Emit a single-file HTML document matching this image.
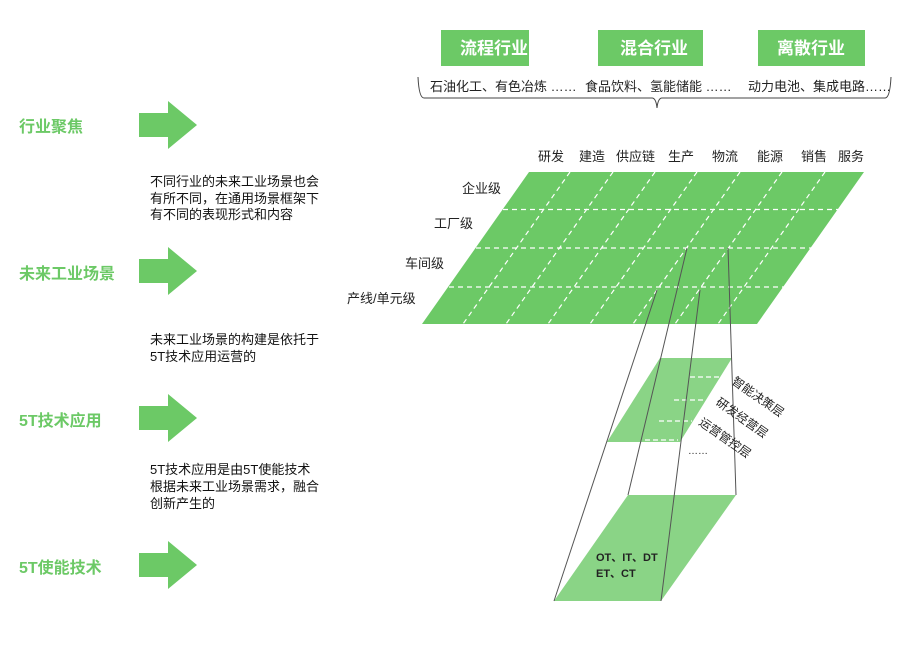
<!DOCTYPE html>
<html><head><meta charset="utf-8"><style>
body{margin:0;background:#fff;}
svg{display:block;font-family:"Liberation Sans","Noto Sans CJK SC",sans-serif;}
</style></head><body>
<svg width="905" height="672" viewBox="0 0 905 672" xmlns="http://www.w3.org/2000/svg">
<rect x="441" y="30" width="88" height="36" fill="#6cc966"/>
<rect x="598" y="30" width="105" height="36" fill="#6cc966"/>
<rect x="758" y="30" width="107" height="36" fill="#6cc966"/>
<g fill="#fff" font-weight="bold" font-size="17" text-anchor="middle">
<text x="494" y="54">流程行业</text>
<text x="654" y="54">混合行业</text>
<text x="811" y="54">离散行业</text>
</g>
<g font-size="13" fill="#222">
<text x="430" y="91">石油化工、有色冶炼 ……</text>
<text x="585" y="91">食品饮料、氢能储能 ……</text>
<text x="748" y="91">动力电池、集成电路……</text>
</g>
<path d="M418,77 Q419,98 424,98 L652,98 Q656,98 657,108 Q658,98 662,98 L885,98 Q890,98 891,77" fill="none" stroke="#444" stroke-width="1"/>
<g fill="#6cc966" font-weight="bold" font-size="16">
<text x="19" y="132">行业聚焦</text>
<text x="19" y="279">未来工业场景</text>
<text x="19" y="426">5T技术应用</text>
<text x="19" y="573">5T使能技术</text>
</g>
<g fill="#6cc966">
<polygon points="139,113 168,113 168,101 197,125 168,149 168,137 139,137"/>
<polygon points="139,259 168,259 168,247 197,271 168,295 168,283 139,283"/>
<polygon points="139,406 168,406 168,394 197,418 168,442 168,430 139,430"/>
<polygon points="139,553 168,553 168,541 197,565 168,589 168,577 139,577"/>
</g>
<g font-size="13" fill="#111">
<text x="150" y="186">不同行业的未来工业场景也会</text>
<text x="150" y="203">有所不同，在通用场景框架下</text>
<text x="150" y="219">有不同的表现形式和内容</text>
<text x="150" y="344">未来工业场景的构建是依托于</text>
<text x="150" y="361">5T技术应用运营的</text>
<text x="150" y="474">5T技术应用是由5T使能技术</text>
<text x="150" y="491">根据未来工业场景需求，融合</text>
<text x="150" y="508">创新产生的</text>
</g>
<polygon points="529,172 864,172 757,324 422,324" fill="#6cc966"/>
<g stroke="#fff" stroke-width="1.2" stroke-dasharray="5,4" fill="none">
<line x1="503" y1="209.5" x2="838" y2="209.5"/>
<line x1="476" y1="248" x2="811" y2="248"/>
<line x1="449" y1="287" x2="784" y2="287"/>
<line x1="570" y1="172" x2="463" y2="324"/>
<line x1="613" y1="172" x2="506" y2="324"/>
<line x1="655" y1="172" x2="548" y2="324"/>
<line x1="697" y1="172" x2="590" y2="324"/>
<line x1="740" y1="172" x2="633" y2="324"/>
<line x1="782" y1="172" x2="675" y2="324"/>
<line x1="825" y1="172" x2="718" y2="324"/>
</g>
<g font-size="13" fill="#222">
<text x="538" y="161">研发</text>
<text x="579" y="161">建造</text>
<text x="616" y="161">供应链</text>
<text x="668" y="161">生产</text>
<text x="712" y="161">物流</text>
<text x="757" y="161">能源</text>
<text x="801" y="161">销售</text>
<text x="838" y="161">服务</text>
<text x="462" y="193">企业级</text>
<text x="434" y="228">工厂级</text>
<text x="405" y="268">车间级</text>
<text x="347" y="303">产线/单元级</text>
</g>
<polygon points="660,358 732,358 680,442 607,442" fill="#8ad486"/>
<g stroke="#fff" stroke-width="1.2" stroke-dasharray="5,3">
<line x1="690" y1="377" x2="720" y2="377"/>
<line x1="674" y1="400" x2="706" y2="400"/>
<line x1="659" y1="421" x2="692" y2="421"/>
<line x1="645" y1="440" x2="678" y2="440"/>
</g>
<polygon points="628,495 736,495 661,601 554,601" fill="#8ad486"/>
<g font-size="11" font-weight="bold" fill="#222">
<text x="596" y="561">OT、IT、DT</text>
<text x="596" y="577">ET、CT</text>
</g>
<g stroke="#555" stroke-width="1" fill="none">
<line x1="657" y1="290" x2="554" y2="601"/>
<line x1="687" y1="248" x2="628" y2="495"/>
<line x1="700" y1="290" x2="661" y2="601"/>
<line x1="728" y1="248" x2="736" y2="495"/>
</g>
<g font-size="12" fill="#222">
<text transform="translate(731,383) rotate(35)">智能决策层</text>
<text transform="translate(715,404) rotate(35)">研发经营层</text>
<text transform="translate(698,424) rotate(35)">运营管控层</text>
<text x="688" y="454" font-size="10">……</text>
</g>
</svg>
</body></html>
